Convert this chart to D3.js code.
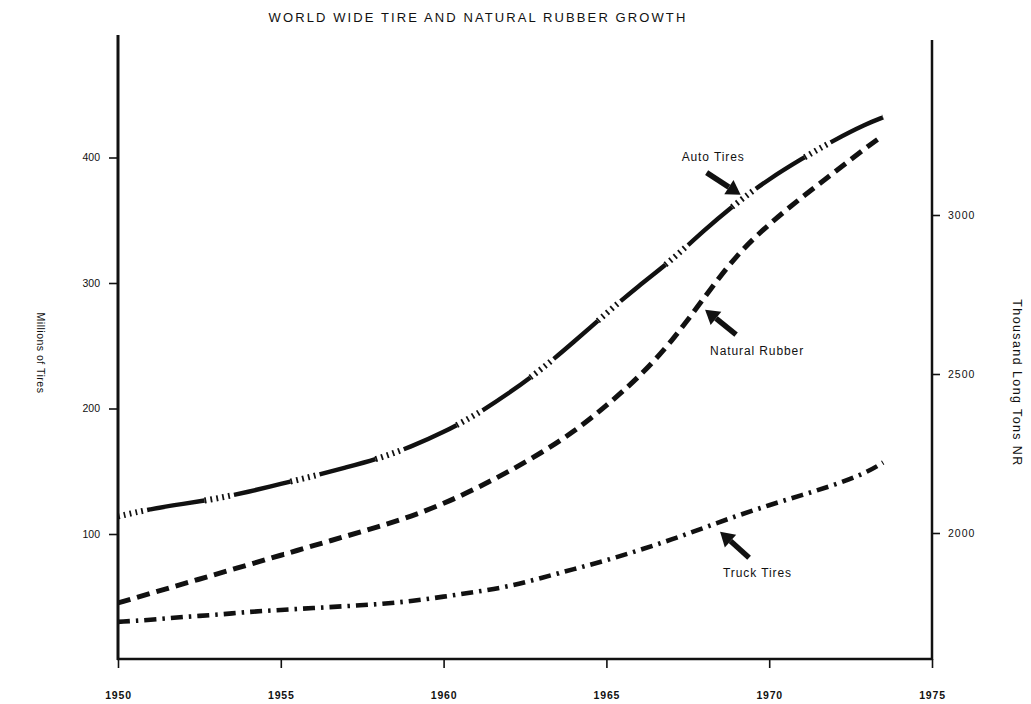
<!DOCTYPE html>
<html>
<head>
<meta charset="utf-8">
<script src="https://cdn.jsdelivr.net/npm/d3@7"></script>
<style>
body { margin: 0; background: #fff; }
text { font-family: "Liberation Sans", Arial, sans-serif; fill: #111; }
</style>
</head>
<body>
<svg id="chart"></svg>
<script>
const width = 1031,
    height = 704;

// data (values at each year, last point mid-1973)
const years = [1950, 1951, 1952, 1953, 1954, 1955, 1956, 1957, 1958, 1959, 1960, 1961,
    1962, 1963, 1964, 1965, 1966, 1967, 1968, 1969, 1970, 1971, 1972, 1973, 1973.5];
const autoTires = [114, 120, 124, 128, 133.5, 140, 146, 153, 160, 169.5, 181, 195,
    212, 231, 253, 276, 298, 318, 342, 364, 383, 399, 414, 427, 432];
const truckTires = [30, 31.5, 34, 35.5, 38, 39.5, 41, 42.5, 44, 46.5, 50, 54,
    58, 65, 72, 79, 87, 95.5, 105, 114.5, 123, 131, 139, 149, 157];
const naturalRubber = [1780, 1810, 1840, 1870, 1900, 1930, 1960, 1990, 2020, 2052, 2092, 2140,
    2193, 2252, 2318, 2400, 2490, 2600, 2740, 2876, 2972, 3056, 3134, 3214, 3250];

const yearTicks = [1950, 1955, 1960, 1965, 1970, 1975];
const leftTicks = [100, 200, 300, 400];
const rightTicks = [2000, 2500, 3000];

const svg = d3.select("#chart")
    .attr("width", width)
    .attr("height", height);

const x = d3.scaleLinear().domain([1950, 1975]).range([118, 932]);
const yL = d3.scaleLinear().domain([0, 400]).range([659.5, 157.5]);
const yR = d3.scaleLinear().domain([2000, 3000]).range([533, 215]);

// title
svg.append("text")
    .attr("x", 478)
    .attr("y", 22)
    .attr("text-anchor", "middle")
    .style("font-size", "13px")
    .style("letter-spacing", "2.1px")
    .text("WORLD WIDE TIRE AND NATURAL RUBBER GROWTH");

// axes
const bottom = svg.append("g")
    .attr("transform", "translate(0,659)")
    .call(d3.axisBottom(x).tickValues(yearTicks).tickFormat(d3.format("d")).tickSize(9).tickPadding(24));

const left = svg.append("g")
    .attr("transform", "translate(118,0)")
    .call(d3.axisLeft(yL).tickValues(leftTicks).tickSize(9).tickPadding(9));

const right = svg.append("g")
    .attr("transform", "translate(932,0)")
    .call(d3.axisRight(yR).tickValues(rightTicks).tickFormat(d3.format("d")).tickSize(8).tickPadding(8));

[bottom, left, right].forEach(g => {
    g.select(".domain").remove();
    g.selectAll(".tick line").attr("stroke", "#111").attr("stroke-width", 1.6);
    g.selectAll(".tick text").style("font-size", "10.5px").style("fill", "#111");
});
bottom.selectAll(".tick text").style("font-weight", "bold").style("letter-spacing", "0.8px");
right.selectAll(".tick text").style("letter-spacing", "1px");

svg.append("line")
    .attr("x1", 118).attr("x2", 118).attr("y1", 35).attr("y2", 660)
    .attr("stroke", "#111").attr("stroke-width", 3);
svg.append("line")
    .attr("x1", 932).attr("x2", 932).attr("y1", 40).attr("y2", 660)
    .attr("stroke", "#111").attr("stroke-width", 2.5);
svg.append("line")
    .attr("x1", 117).attr("x2", 933).attr("y1", 659).attr("y2", 659)
    .attr("stroke", "#111").attr("stroke-width", 2.6);

// axis titles
svg.append("text")
    .attr("transform", "translate(37,353) rotate(90)")
    .attr("text-anchor", "middle")
    .style("font-size", "10.5px")
    .style("letter-spacing", "0.5px")
    .text("Millions of Tires");

svg.append("text")
    .attr("transform", "translate(1013,383) rotate(90)")
    .attr("text-anchor", "middle")
    .style("font-size", "12.5px")
    .style("letter-spacing", "1.4px")
    .text("Thousand Long Tons NR");

// lines
const lineL = d3.line().x((d, i) => x(years[i])).y(d => yL(d)).curve(d3.curveBasis);
const lineR = d3.line().x((d, i) => x(years[i])).y(d => yR(d)).curve(d3.curveBasis);

const lines = svg.append("g").attr("fill", "none").attr("stroke", "#111");

// auto tires: long solid pieces alternating with hatched pieces
lines.append("path")
    .attr("d", lineL(autoTires))
    .attr("stroke-width", 4.4)
    .attr("stroke-dasharray", "58,30")
    .attr("stroke-dashoffset", 58);
lines.append("path")
    .attr("d", lineL(autoTires))
    .attr("stroke-width", 6)
    .attr("stroke-dasharray", "1.8,4.2,1.8,4.2,1.8,4.2,1.8,4.2,1.8,4.2,0,58");

// natural rubber: heavy dashes
lines.append("path")
    .attr("d", lineR(naturalRubber))
    .attr("stroke-width", 5)
    .attr("stroke-dasharray", "13,7");

// truck tires: dash-dot
lines.append("path")
    .attr("d", lineL(truckTires))
    .attr("stroke-width", 4.6)
    .attr("stroke-dasharray", "12,6,2.5,6");

// annotations with arrows, tip placed near a data point
const notes = [
    {label: "Auto Tires", values: autoTires, scale: yL, i: 19, tip: [4, -8], tail: [-30, -30], text: [-55, -42]},
    {label: "Natural Rubber", values: naturalRubber, scale: yR, i: 18, tip: [1, 12], tail: [32, 37], text: [6, 57]},
    {label: "Truck Tires", values: truckTires, scale: yL, i: 18, tip: [16, 4], tail: [45, 30], text: [19, 49]}
];

function arrow(g, x1, y1, x2, y2) {
    const dx = x2 - x1, dy = y2 - y1, len = Math.hypot(dx, dy);
    const ux = dx / len, uy = dy / len, px = -uy, py = ux;
    const hl = 14, hw = 8.5;
    const bx = x2 - ux * hl, by = y2 - uy * hl;
    g.append("line")
        .attr("x1", x1).attr("y1", y1).attr("x2", bx).attr("y2", by)
        .attr("stroke", "#111").attr("stroke-width", 5.5);
    g.append("path")
        .attr("d", `M${x2},${y2}L${bx + px * hw},${by + py * hw}L${bx - px * hw},${by - py * hw}Z`)
        .attr("fill", "#111");
}

const ann = svg.append("g");
notes.forEach(n => {
    const px = x(years[n.i]), py = n.scale(n.values[n.i]);
    arrow(ann, px + n.tail[0], py + n.tail[1], px + n.tip[0], py + n.tip[1]);
    ann.append("text")
        .attr("x", px + n.text[0])
        .attr("y", py + n.text[1])
        .style("font-size", "12px")
        .style("letter-spacing", "0.9px")
        .text(n.label);
});
</script>
</body>
</html>
